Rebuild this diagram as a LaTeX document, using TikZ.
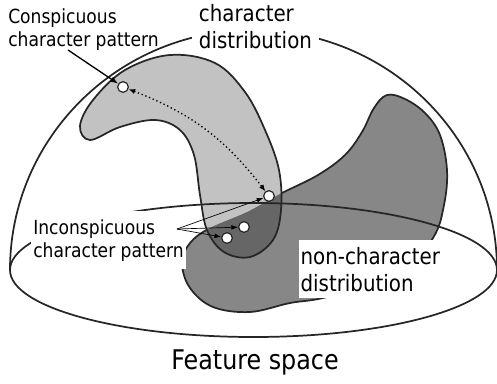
\documentclass[tikz,border=0pt]{standalone}
\usepackage{fontspec}
\setmainfont{DejaVu Sans}[FakeStretch=0.88]
\usetikzlibrary{arrows.meta,bending}
\definecolor{charfill}{gray}{0.76}
\definecolor{noncharfill}{gray}{0.53}
\definecolor{overlapfill}{gray}{0.40}

\begin{document}
\begin{tikzpicture}[
            x=0.75pt, y=-0.75pt,
            outline/.style={draw=black!85, line width=1.3pt},
            sample/.style={
                    circle, draw=black!85, fill=white, line width=0.9pt,
                    minimum size=8pt, inner sep=0pt
                },
            label/.style={
                    fill=white, align=left, anchor=north west,
                    font=\fontsize{14.6}{17.5}\selectfont
                },
            biglabel/.style={
                    fill=white, align=left, anchor=north west,
                    font=\fontsize{16.9}{20.5}\selectfont
                },
            arr/.style={-{Latex[length=6pt,width=4.5pt]}, line width=1pt},
            thinarr/.style={-{Latex[length=5pt,width=3.5pt]}, line width=0.5pt}
            ]
            \useasboundingbox (0,0) rectangle (497,383);

            % non-character distribution
            \path[fill=noncharfill, outline] plot[smooth cycle, tension=0.6] coordinates {
                    (387,95) (405,99) (425,113) (440,135) (447,170) (444,205)
                    (433,238) (400,275) (327,297) (290,303) (250,312) (213,307)
                    (190,288) (182,263) (190,243) (210,228) (247,212) (280,194)
                    (318,175) (345,155) (362,132) (374,108)};
            % character distribution
            \path[fill=charfill] plot[smooth cycle, tension=0.6] coordinates {
                    (80,126) (93,100) (125,70) (170,55) (215,63) (245,92)
                    (265,130) (279,170) (281,210) (273,240) (250,257) (224,252)
                    (207,230) (200,195) (194,155) (180,130) (155,120) (120,127)
                    (90,140)} [save path=\charpath];
            \begin{scope}
                \clip plot[smooth cycle, tension=0.6] coordinates {
                        (387,95) (405,99) (425,113) (440,135) (447,170) (444,205)
                        (433,238) (400,275) (327,297) (290,303) (250,312) (213,307)
                        (190,288) (182,263) (190,243) (210,228) (247,212) (280,194)
                        (318,175) (345,155) (362,132) (374,108)};
                \fill[overlapfill, use path=\charpath];
            \end{scope}
            \draw[outline, use path=\charpath];

            % feature space
            \draw[outline] (253.5,270) ellipse[x radius=243.5, y radius=67];
            \draw[outline] (10,270) arc[start angle=180, end angle=360,
                    x radius=243.5, y radius=240];

            % labels
            \node[biglabel, inner xsep=5pt, inner ysep=3pt] (chardist) at (192,0)
            {character\\distribution};
            \node[biglabel, inner xsep=1pt, inner ysep=5pt] (nonchardist) at (299,240)
            {non-character\\distribution};
            \node[label, inner sep=0pt, fill=none] (conspic) at (8,8)
            {Conspicuous\\character pattern};
            \node[label, inner xsep=1.5pt, inner ysep=6pt] (inconspic) at (31,211)
            {Inconspicuous\\character pattern};
            \node[font=\fontsize{20.3}{24}\selectfont, anchor=base] (space) at (255,369)
            {Feature space};

            % samples
            \node[sample] (far) at (123,87) {};
            \node[sample] (near) at (269,196) {};
            \node[sample] (midA) at (244,227) {};
            \node[sample] (midB) at (227,238) {};

            \coordinate (conspicfoot) at (68,50);
            \coordinate (inconspicfoot) at (177,229);

            \draw[arr] (conspicfoot) -- (far);
            \draw[{Latex[length=5pt,width=4pt]}-{Latex[length=5pt,width=4pt]},
                line width=1pt, dotted] (far) to[bend left=16] (near);
            \draw[thinarr] (inconspicfoot) -- (near);
            \draw[thinarr] (inconspicfoot) -- (midA);
            \draw[thinarr] (inconspicfoot) -- (midB);
        \end{tikzpicture}
\end{document}
